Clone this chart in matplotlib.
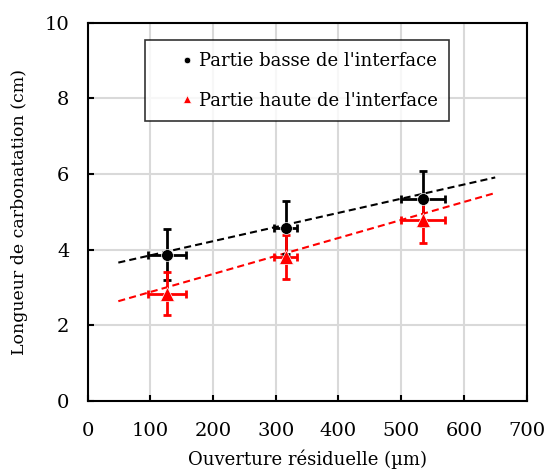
import numpy as np
import matplotlib.pyplot as plt

plt.rcParams['font.family'] = ['DejaVu Serif']

# data
ouverture = [127, 316, 535]
ouverture_err = [30, 18, 35]
basse = [3.87, 4.58, 5.35]
basse_err = [0.68, 0.70, 0.73]
haute = [2.84, 3.81, 4.78]
haute_err = [0.57, 0.57, 0.60]

# linear trend lines (slope, intercept) and their x range
fit_basse = [0.003744, 3.477]
fit_haute = [0.004759, 2.407]
fit_range = [49, 650]

fig = plt.figure(figsize=(5.44, 4.73), dpi=100)
ax = fig.add_axes([0.161, 0.152, 0.807, 0.8])

# trend lines
xf = np.array(fit_range)
for p, c in [(fit_basse, 'black'), (fit_haute, 'red')]:
    ax.plot(xf, np.polyval(p, xf), color=c, linestyle=(0, (3.4, 2.0)), linewidth=1.5, zorder=2)

# error bars
for y, yerr, c in [(basse, basse_err, 'black'), (haute, haute_err, 'red')]:
    ax.errorbar(ouverture, y, xerr=ouverture_err, yerr=yerr, fmt='none', ecolor=c,
                elinewidth=2, capsize=3.2, capthick=2, zorder=3)

ax.plot(ouverture, basse, 'o', color='black', markersize=8.5, markeredgecolor='white',
        markeredgewidth=0.5, label="Partie basse de l'interface", zorder=4)
ax.plot(ouverture, haute, '^', color='red', markersize=10.5, markeredgecolor='white',
        markeredgewidth=0.5, label="Partie haute de l'interface", zorder=4)

ax.set_xlim(0, 700)
ax.set_ylim(0, 10)
ax.set_xticks(range(0, 701, 100))
ax.set_yticks(range(0, 11, 2))
ax.grid(True, color='#d9d9d9', linewidth=1.5)
ax.set_axisbelow(True)
for s in ax.spines.values():
    s.set_linewidth(1.5)
ax.tick_params(direction='in', length=4, width=1.5, labelsize=14)
ax.tick_params(axis='x', pad=15)
ax.tick_params(axis='y', pad=13)
ax.set_xlabel('Ouverture résiduelle (µm)', fontsize=13, labelpad=7)
ax.set_ylabel('Longueur de carbonatation (cm)', fontsize=12.5, labelpad=12)

leg = ax.legend(loc='upper left', bbox_to_anchor=(0.13, 0.954), fontsize=13,
                markerscale=0.55, frameon=True, fancybox=False, edgecolor='black',
                handlelength=3.4, handletextpad=-1.05, borderpad=0.65, labelspacing=1.2,
                borderaxespad=0)
leg.get_frame().set_linewidth(1.2)
leg.set_zorder(5)

fig.savefig('out.png', dpi=100)
